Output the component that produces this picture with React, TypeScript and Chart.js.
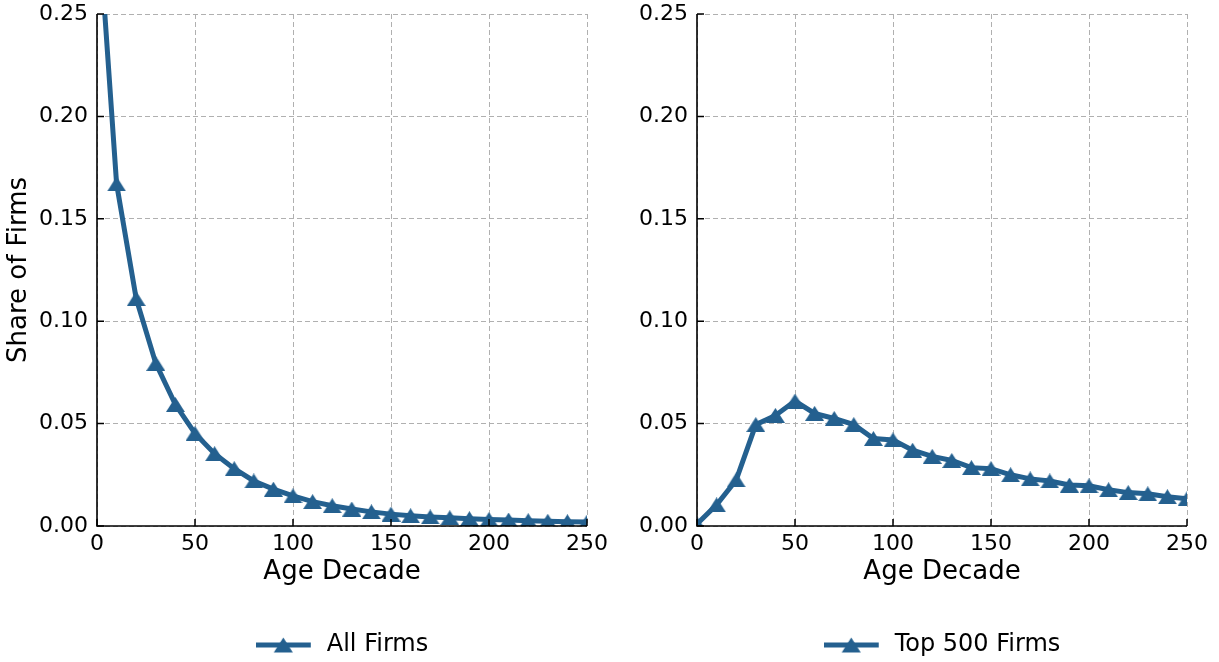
import React, { useEffect, useRef } from 'react';
import { Chart, registerables } from 'chart.js';

Chart.register(...registerables);

const ageDecades = [0, 10, 20, 30, 40, 50, 60, 70, 80, 90, 100, 110, 120, 130, 140, 150, 160, 170, 180, 190, 200, 210, 220, 230, 240, 250];
const allFirms = [0.305, 0.167, 0.111, 0.0794, 0.0593, 0.0452, 0.0353, 0.028, 0.022, 0.018, 0.0147, 0.0119, 0.0099, 0.0083, 0.0069, 0.0058, 0.005, 0.0044, 0.004, 0.0036, 0.0032, 0.0029, 0.0026, 0.0023, 0.0021, 0.0019];
const top500Firms = [0.001, 0.0103, 0.0225, 0.0495, 0.054, 0.061, 0.055, 0.0525, 0.0495, 0.0427, 0.042, 0.037, 0.034, 0.032, 0.0285, 0.028, 0.025, 0.023, 0.022, 0.02, 0.0196, 0.0177, 0.0163, 0.0157, 0.0143, 0.0133];
const xTicks = [0, 50, 100, 150, 200, 250];
const yTicks = [0, 0.05, 0.1, 0.15, 0.2, 0.25];
const seriesLabels = ['All Firms', 'Top 500 Firms'];
const xTitle = 'Age Decade';
const yTitle = 'Share of Firms';

const COLOR = '#24608f';
const FONT = "'DejaVu Sans', sans-serif";

Chart.defaults.font.family = FONT;
Chart.defaults.color = '#000';

const axesPlugin = {
  id: 'mplAxes',
  afterDraw(chart: any) {
    const { ctx, chartArea } = chart;
    const xs = chart.scales.x;
    const ys = chart.scales.y;
    ctx.save();
    ctx.strokeStyle = '#000';
    ctx.lineWidth = 1.5;
    ctx.beginPath();
    xTicks.forEach((v) => {
      const px = xs.getPixelForValue(v);
      ctx.moveTo(px, chartArea.bottom);
      ctx.lineTo(px, chartArea.bottom - 7);
    });
    yTicks.forEach((v) => {
      const py = ys.getPixelForValue(v);
      ctx.moveTo(chartArea.left, py);
      ctx.lineTo(chartArea.left + 7, py);
    });
    ctx.stroke();
    ctx.lineWidth = 1.6;
    ctx.beginPath();
    ctx.moveTo(chartArea.left, chartArea.top);
    ctx.lineTo(chartArea.left, chartArea.bottom);
    ctx.lineTo(chartArea.right, chartArea.bottom);
    ctx.stroke();
    ctx.restore();
  },
};

function drawTriangle(g: CanvasRenderingContext2D, cx: number, cy: number, w: number, h: number) {
  g.beginPath();
  g.moveTo(cx, cy - h / 2);
  g.lineTo(cx + w / 2, cy + h / 2);
  g.lineTo(cx - w / 2, cy + h / 2);
  g.closePath();
  g.fill();
}

function makeMarker(): HTMLCanvasElement {
  const c = document.createElement('canvas');
  c.width = 19;
  c.height = 15;
  const g = c.getContext('2d')!;
  g.fillStyle = COLOR;
  drawTriangle(g, 9.5, 7.5, 19, 15);
  return c;
}

function makeLegendIcon(): HTMLCanvasElement {
  const c = document.createElement('canvas');
  c.width = 59;
  c.height = 22;
  const g = c.getContext('2d')!;
  g.strokeStyle = COLOR;
  g.fillStyle = COLOR;
  g.lineWidth = 5;
  g.beginPath();
  g.moveTo(0, 11);
  g.lineTo(55, 11);
  g.stroke();
  drawTriangle(g, 27.5, 11, 19, 15);
  return c;
}

type PanelProps = {
  values: number[];
  label: string;
  showYTitle: boolean;
  left: number;
  width: number;
  yAxisWidth: number;
  rightPad: number;
};

function Panel({ values, label, showYTitle, left, width, yAxisWidth, rightPad }: PanelProps) {
  const ref = useRef<HTMLCanvasElement | null>(null);

  useEffect(() => {
    if (!ref.current) return;
    const icon = makeLegendIcon();
    const marker = makeMarker();
    const chart = new Chart(ref.current, {
      type: 'line',
      data: {
        datasets: [
          {
            label,
            data: ageDecades.map((x, i) => ({ x, y: values[i] })),
            borderColor: COLOR,
            backgroundColor: COLOR,
            borderWidth: 5,
            pointStyle: marker as any,
            pointRadius: 9,
            tension: 0,
            clip: 0,
          } as any,
        ],
      },
      options: {
        responsive: false,
        animation: false,
        devicePixelRatio: 1,
        layout: { padding: { top: 14, right: rightPad, left: 0, bottom: -5 } },
        plugins: {
          tooltip: { enabled: false },
          legend: {
            position: 'bottom',
            fullSize: false,
            labels: {
              usePointStyle: true,
              pointStyleWidth: 59,
              padding: 10,
              color: '#000',
              font: { size: 24, family: FONT },
              generateLabels: () => [
                {
                  text: label,
                  pointStyle: icon as any,
                  fillStyle: COLOR,
                  strokeStyle: COLOR,
                  lineWidth: 0,
                  hidden: false,
                  datasetIndex: 0,
                  fontColor: '#000',
                } as any,
              ],
            },
          },
        },
        scales: {
          x: {
            type: 'linear',
            min: 0,
            max: 250,
            afterFit: (s: any) => {
              s.height = 97;
              s.paddingLeft = 0;
              s.paddingRight = 0;
            },
            ticks: {
              stepSize: 50,
              padding: 5,
              color: '#000',
              font: { size: 22, family: FONT },
              maxRotation: 0,
            },
            grid: { color: '#b0b0b0', lineWidth: 1, drawTicks: false },
            border: { display: false, dash: [5, 3] },
            title: {
              display: true,
              text: xTitle,
              color: '#000',
              font: { size: 26, family: FONT },
              padding: { top: 0, bottom: 35 },
            },
          },
          y: {
            type: 'linear',
            min: 0,
            max: 0.25,
            afterFit: (s: any) => {
              s.width = yAxisWidth;
              s.paddingTop = 0;
              s.paddingBottom = 0;
            },
            ticks: {
              stepSize: 0.05,
              padding: 9,
              color: '#000',
              font: { size: 22, family: FONT },
              callback: (v: any) => Number(v).toFixed(2),
            },
            grid: { color: '#b0b0b0', lineWidth: 1, drawTicks: false },
            border: { display: false, dash: [5, 3] },
            title: {
              display: showYTitle,
              text: yTitle,
              color: '#000',
              font: { size: 26, family: FONT },
              padding: { top: 4, bottom: 0 },
            },
          },
        },
      },
      plugins: [axesPlugin],
    });
    return () => chart.destroy();
  }, [values, label, showYTitle, yAxisWidth, rightPad]);

  return (
    <canvas
      ref={ref}
      width={width}
      height={662}
      style={{ position: 'absolute', left, top: 0, width, height: 662, display: 'block' }}
    />
  );
}

export default function App() {
  return (
    <div style={{ position: 'absolute', left: 0, top: 0, width: 1219, height: 662, background: '#fff', overflow: 'hidden' }}>
      <Panel values={allFirms} label={seriesLabels[0]} showYTitle={true} left={0} width={609} yAxisWidth={97} rightPad={22} />
      <Panel values={top500Firms} label={seriesLabels[1]} showYTitle={false} left={609} width={610} yAxisWidth={88} rightPad={32} />
    </div>
  );
}
